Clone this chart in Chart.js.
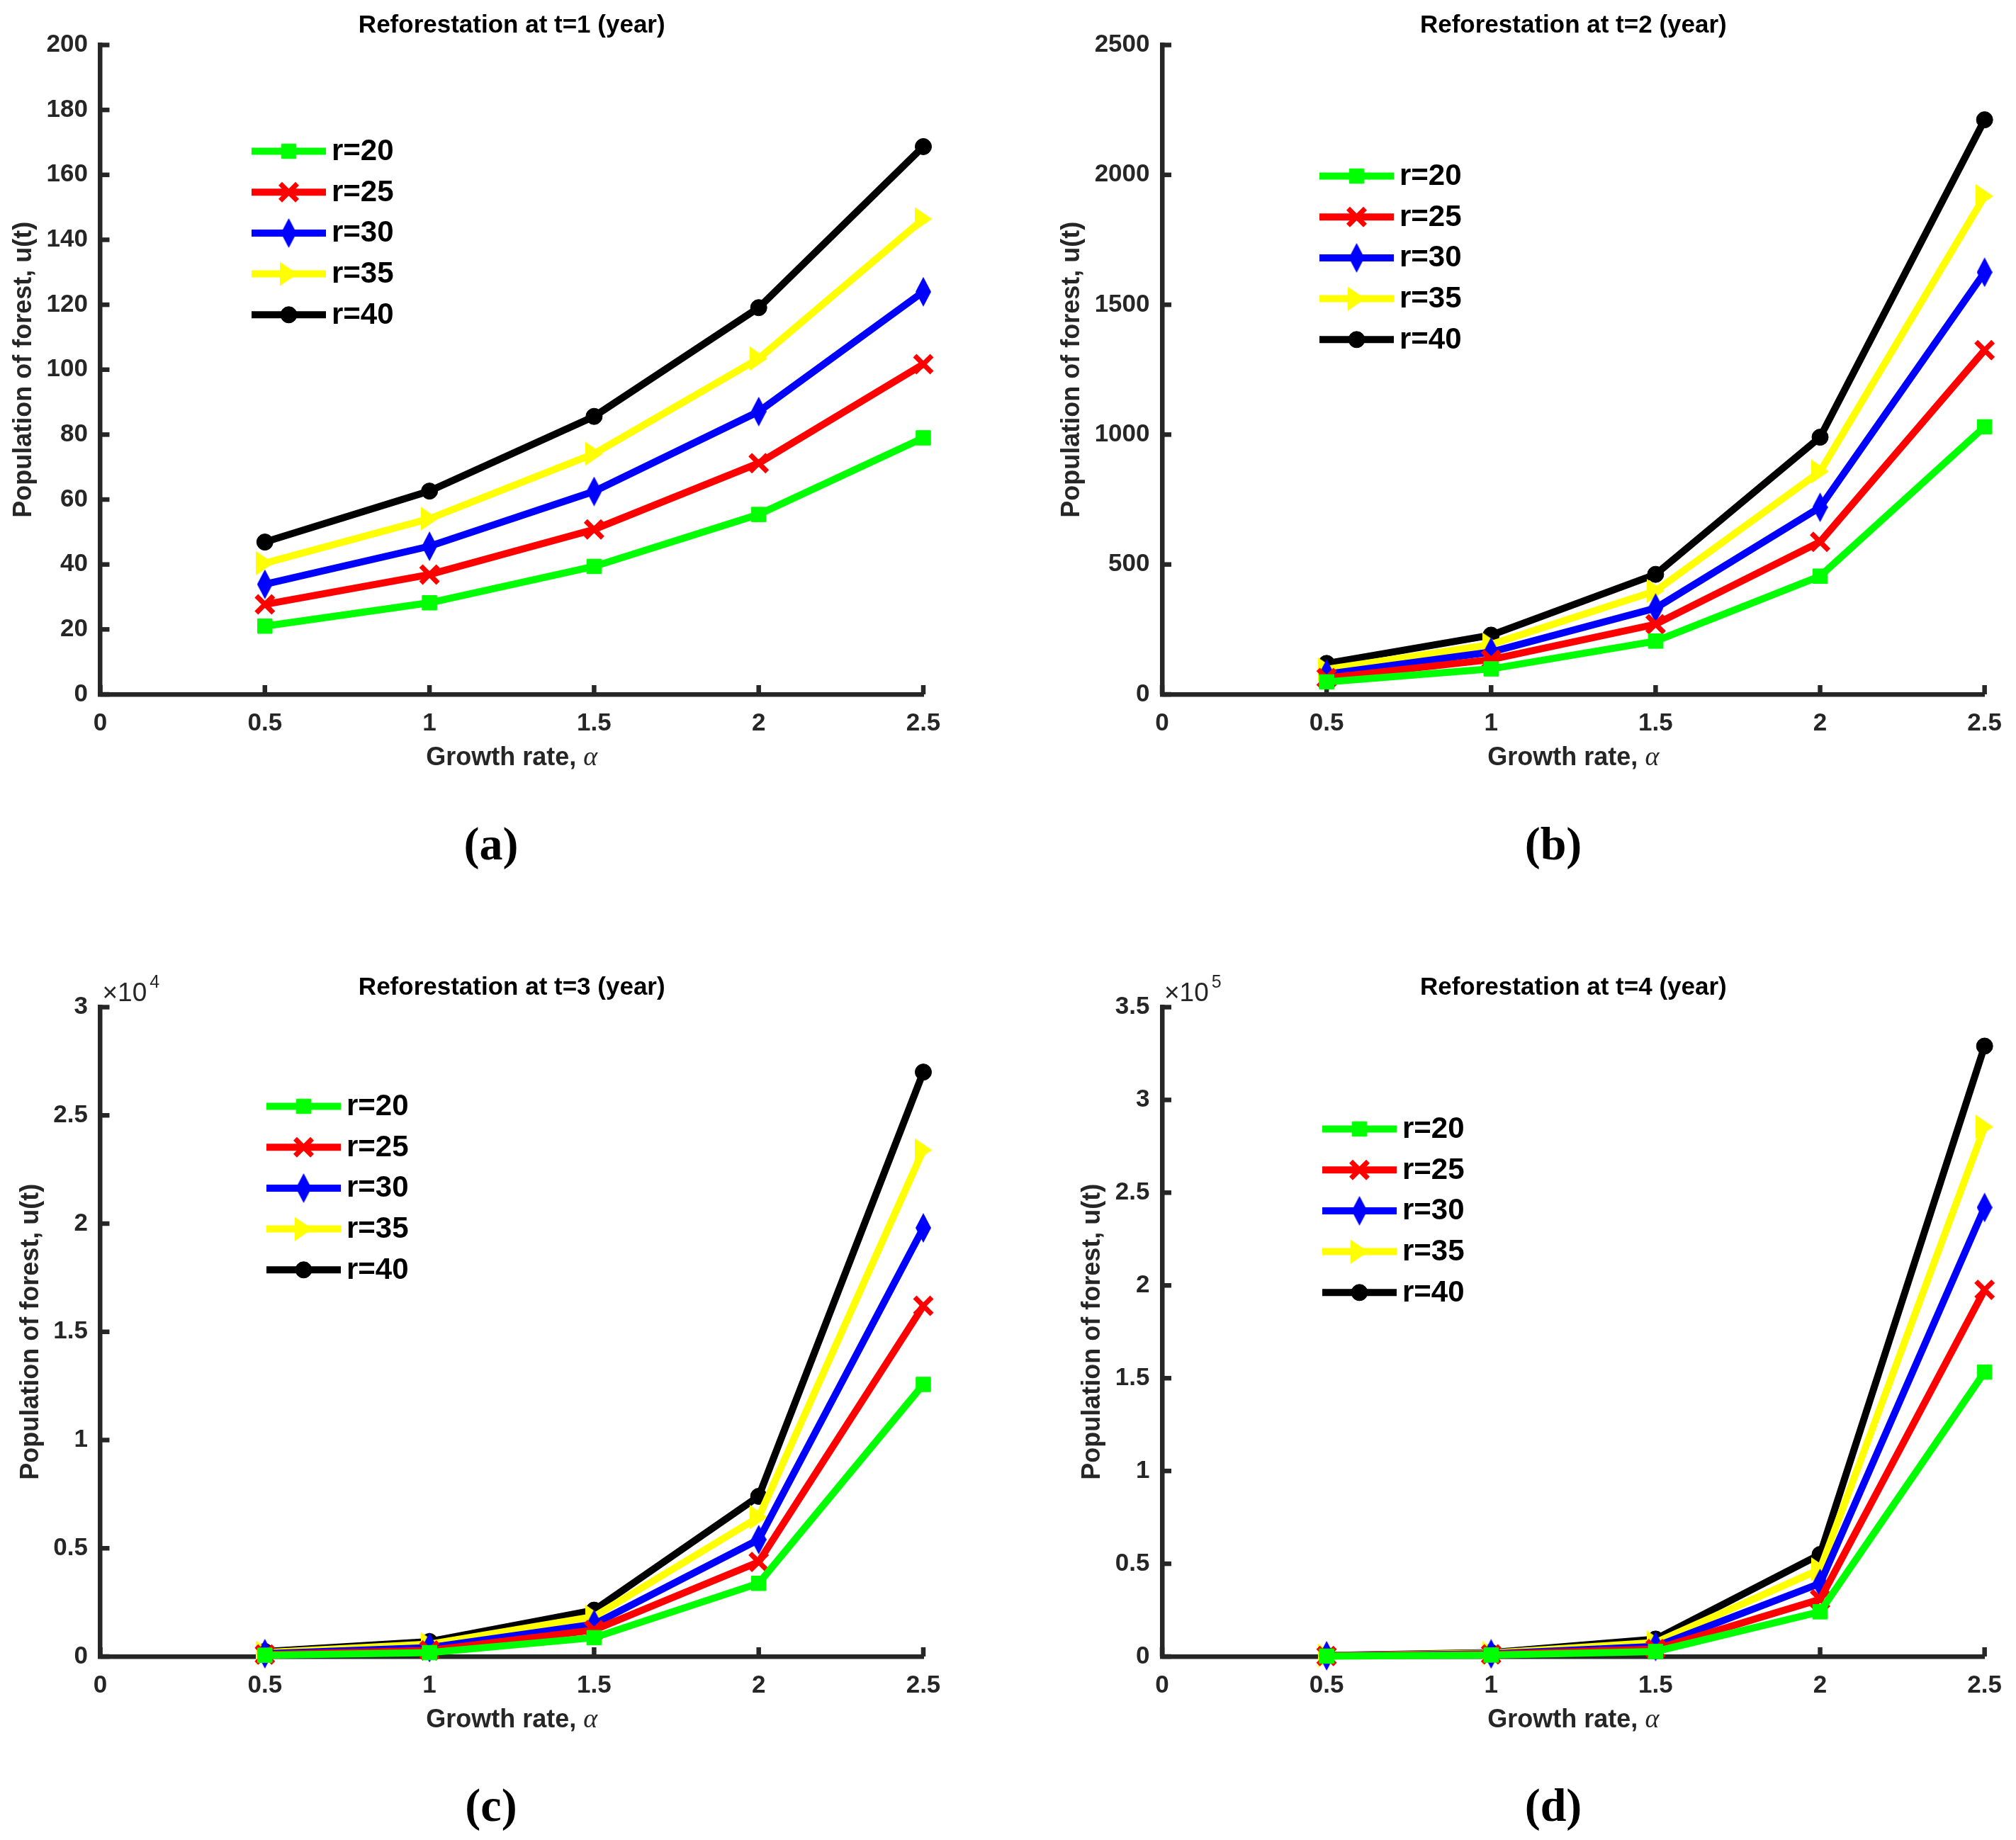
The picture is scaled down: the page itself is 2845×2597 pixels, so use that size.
<!DOCTYPE html>
<html><head><meta charset="utf-8">
<script src="https://cdn.jsdelivr.net/npm/chart.js@4.4.1/dist/chart.umd.min.js"></script>
<style>
html,body{margin:0;padding:0;background:#fff;}
#wrap{position:relative;width:2845px;height:2597px;background:#fff;overflow:hidden;}
canvas{position:absolute;}
.plabel{position:absolute;transform:translate(-50%,-50%);font:bold 66px 'Liberation Serif','DejaVu Serif',serif;color:#000;white-space:nowrap;}
</style></head><body>
<div id="wrap">
<canvas id="ca" width="1422" height="1100" style="left:0px;top:0px;width:1422px;height:1100px"></canvas>
<canvas id="cb" width="1423" height="1100" style="left:1422px;top:0px;width:1423px;height:1100px"></canvas>
<canvas id="cc" width="1422" height="1100" style="left:0px;top:1357.5px;width:1422px;height:1100px"></canvas>
<canvas id="cd" width="1423" height="1100" style="left:1422px;top:1357.5px;width:1423px;height:1100px"></canvas>
<div class="plabel" style="left:693px;top:1191px">(a)</div>
<div class="plabel" style="left:2192px;top:1191px">(b)</div>
<div class="plabel" style="left:693px;top:2548px">(c)</div>
<div class="plabel" style="left:2192px;top:2548px">(d)</div>
</div>
<script>
// ---------- data ----------
const alpha = [0.5, 1, 1.5, 2, 2.5];
const seriesNames = ['r=20', 'r=25', 'r=30', 'r=35', 'r=40'];
const panelTitles = ['Reforestation at t=1 (year)', 'Reforestation at t=2 (year)', 'Reforestation at t=3 (year)', 'Reforestation at t=4 (year)'];
const xAxisTitleText = 'Growth rate, ';
const xAxisTitleSymbol = '\u03B1';
const yAxisTitle = 'Population of forest, u(t)';

// t = 1 year
const t1_r20 = [21.0, 28.2, 39.4, 55.4, 79.0];
const t1_r25 = [27.7, 36.9, 50.8, 71.2, 101.7];
const t1_r30 = [33.9, 45.6, 62.5, 87.1, 124.0];
const t1_r35 = [40.4, 54.1, 74.1, 103.4, 146.4];
const t1_r40 = [46.9, 62.6, 85.6, 119.1, 168.7];
// t = 2 years
const t2_r20 = [48, 98, 205, 455, 1030];
const t2_r25 = [63, 134, 270, 587, 1325];
const t2_r30 = [78, 163, 332, 720, 1625];
const t2_r35 = [96, 192, 398, 858, 1918];
const t2_r40 = [119, 228, 462, 990, 2212];
// t = 3 years
const t3_r20 = [60, 180, 870, 3380, 12570];
const t3_r25 = [90, 280, 1220, 4370, 16200];
const t3_r30 = [130, 410, 1490, 5400, 19800];
const t3_r35 = [180, 570, 1840, 6440, 23400];
const t3_r40 = [230, 690, 2140, 7400, 27000];
// t = 4 years
const t4_r20 = [200, 800, 2700, 24100, 153300];
const t4_r25 = [300, 1100, 4000, 30800, 197600];
const t4_r30 = [400, 1400, 5400, 39400, 242000];
const t4_r35 = [500, 1800, 7500, 47000, 285500];
const t4_r40 = [600, 2100, 9400, 55000, 329000];

// axis ranges / tick spacing
const xMin = 0, xMax = 2.5, xStep = 0.5;
const yMaxes = [200, 2500, 30000, 350000];
const ySteps = [20, 500, 5000, 50000];
const yExponents = [0, 0, 4, 5];

// ---------- styles ----------
const FONT = "'Liberation Sans', Arial, Helvetica, sans-serif";
const SERIF = "'Liberation Serif', 'DejaVu Serif', serif";
const AX = '#262626';

function shapeCanvas(w, h, color, pts) {
  const c = document.createElement('canvas');
  c.width = w; c.height = h;
  const g = c.getContext('2d');
  g.fillStyle = color;
  g.beginPath();
  pts.forEach((p, i) => i ? g.lineTo(p[0], p[1]) : g.moveTo(p[0], p[1]));
  g.closePath(); g.fill();
  return c;
}
const diamondImg = shapeCanvas(22, 42, '#0000FF', [[11, 0], [22, 21], [11, 42], [0, 21]]);
const triRightImg = shapeCanvas(25, 34, '#FFFF00', [[0, 0], [25, 17], [0, 34]]);

const seriesStyles = [
  {color: '#00FF00', pointStyle: 'rect', radius: 14.5, rot: 0, bw: 1},
  {color: '#FF0000', pointStyle: 'crossRot', radius: 17, rot: 0, bw: 7},
  {color: '#0000FF', pointStyle: diamondImg, radius: 14, rot: 0, bw: 0},
  {color: '#FFFF00', pointStyle: triRightImg, radius: 14, rot: 0, bw: 0},
  {color: '#000000', pointStyle: 'circle', radius: 11.5, rot: 0, bw: 1}
];

const legendPlugin = {
  id: 'mLegend',
  afterDatasetsDraw(chart, args, opts) {
    const ctx = chart.ctx, ca = chart.chartArea;
    const x0 = ca.left + opts.dx, y0 = ca.top + opts.dy;
    chart.data.datasets.forEach((ds, i) => {
      const y = y0 + i * 57.7;
      ctx.save();
      ctx.strokeStyle = ds.borderColor; ctx.lineWidth = ds.borderWidth; ctx.lineCap = 'butt';
      ctx.beginPath(); ctx.moveTo(x0, y); ctx.lineTo(x0 + 105, y); ctx.stroke();
      ctx.fillStyle = ds.pointBackgroundColor; ctx.strokeStyle = ds.pointBorderColor; ctx.lineWidth = ds.pointBorderWidth;
      Chart.helpers.drawPoint(ctx, {pointStyle: ds.pointStyle, rotation: ds.pointRotation || 0, radius: ds.pointRadius, borderWidth: ds.pointBorderWidth}, x0 + 52.5, y);
      ctx.fillStyle = '#000'; ctx.font = 'bold 42px ' + FONT; ctx.textBaseline = 'middle'; ctx.textAlign = 'left';
      ctx.fillText(ds.label, x0 + 113, y + 1);
      ctx.restore();
    });
  }
};

const inwardTicks = {
  id: 'inTicks',
  beforeDatasetsDraw(chart) {
    const ctx = chart.ctx, ca = chart.chartArea;
    const xs = chart.scales.x, ys = chart.scales.y;
    ctx.save(); ctx.strokeStyle = AX; ctx.lineWidth = 6.5; ctx.lineCap = 'butt';
    ys.ticks.forEach(t => { const y = ys.getPixelForValue(t.value); ctx.beginPath(); ctx.moveTo(ca.left, y); ctx.lineTo(ca.left + 13, y); ctx.stroke(); });
    xs.ticks.forEach(t => { const x = xs.getPixelForValue(t.value); ctx.beginPath(); ctx.moveTo(x, ca.bottom); ctx.lineTo(x, ca.bottom - 13); ctx.stroke(); });
    ctx.restore();
  }
};

const xTitlePlugin = {
  id: 'xTitle',
  afterDraw(chart) {
    const ctx = chart.ctx, ca = chart.chartArea;
    ctx.save(); ctx.fillStyle = AX; ctx.textBaseline = 'alphabetic'; ctx.textAlign = 'left';
    const f1 = 'bold 36px ' + FONT, f2 = 'italic 38px ' + SERIF;
    ctx.font = f1; const w1 = ctx.measureText(xAxisTitleText).width;
    ctx.font = f2; const w2 = ctx.measureText(xAxisTitleSymbol).width;
    const x0 = (ca.left + ca.right) / 2 - (w1 + w2) / 2;
    const yb = ca.bottom + 100;
    ctx.font = f1; ctx.fillText(xAxisTitleText, x0, yb);
    ctx.font = f2; ctx.fillText(xAxisTitleSymbol, x0 + w1, yb);
    ctx.restore();
  }
};

const expPlugin = {
  id: 'expLabel',
  afterDraw(chart, args, opts) {
    if (!opts.exp) return;
    const ctx = chart.ctx, ca = chart.chartArea;
    ctx.save(); ctx.fillStyle = AX; ctx.textAlign = 'left'; ctx.textBaseline = 'alphabetic';
    ctx.font = '37px ' + FONT;
    const base = '\u00D710';
    ctx.fillText(base, ca.left + 3, ca.top - 9);
    const w = ctx.measureText(base).width;
    ctx.font = '25px ' + FONT;
    ctx.fillText(String(opts.exp), ca.left + 3 + w + 4, ca.top - 28);
    ctx.restore();
  }
};

function makePanel(canvasId, seriesList, idx, layout) {
  const exp = yExponents[idx];
  const datasets = seriesList.map((vals, i) => {
    const s = seriesStyles[i];
    return {
      label: seriesNames[i],
      data: vals.map((v, j) => ({x: alpha[j], y: v})),
      borderColor: s.color, backgroundColor: s.color,
      borderWidth: 10, tension: 0,
      pointStyle: s.pointStyle, pointRadius: s.radius, pointRotation: s.rot,
      pointBackgroundColor: s.color, pointBorderColor: s.color, pointBorderWidth: s.bw,
      pointHoverRadius: s.radius,
      clip: false
    };
  });
  new Chart(document.getElementById(canvasId), {
    type: 'line',
    data: {datasets},
    plugins: [inwardTicks, legendPlugin, expPlugin, xTitlePlugin],
    options: {
      responsive: false, animation: false, devicePixelRatio: 1,
      layout: {padding: {left: 0, right: layout.padRight, top: 0, bottom: 0}},
      plugins: {
        legend: {display: false}, tooltip: {enabled: false},
        title: {display: true, text: panelTitles[idx], fullSize: false, color: '#000',
          font: {family: FONT, size: 35, weight: 'bold', lineHeight: 1.2}, padding: {top: 15, bottom: 6.5}},
        mLegend: {dx: layout.legDx, dy: layout.legDy},
        expLabel: {exp: exp}
      },
      scales: {
        x: {
          type: 'linear', min: xMin, max: xMax,
          afterFit(scale) { scale.height = 120; },
          grid: {display: false, drawTicks: false},
          border: {display: true, color: AX, width: 6.5},
          ticks: {stepSize: xStep, color: AX, padding: 20, font: {family: FONT, size: 35, weight: 'bold'},
            callback: v => String(v), maxRotation: 0, autoSkip: false},
          title: {display: false}
        },
        y: {
          type: 'linear', min: 0, max: yMaxes[idx],
          afterFit(scale) { scale.width = layout.yWidth; },
          grid: {display: false, drawTicks: false},
          border: {display: true, color: AX, width: 6.5},
          ticks: {stepSize: ySteps[idx], color: AX, padding: 17.5, font: {family: FONT, size: 35, weight: 'bold'},
            callback: v => exp ? String(+(v / Math.pow(10, exp)).toFixed(3)) : String(v), autoSkip: false},
          title: {display: true, text: yAxisTitle, color: AX, font: {family: FONT, size: 36, weight: 'bold', lineHeight: 1.2}, padding: {top: layout.yTitlePad, bottom: 0}}
        }
      }
    }
  });
}

makePanel('ca', [t1_r20, t1_r25, t1_r30, t1_r35, t1_r40], 0, {padRight: 119, yWidth: 141.5, yTitlePad: 12.4, legDx: 213.5, legDy: 150});
makePanel('cb', [t2_r20, t2_r25, t2_r30, t2_r35, t2_r40], 1, {padRight: 42, yWidth: 218, yTitlePad: 69.4, legDx: 222, legDy: 185});
makePanel('cc', [t3_r20, t3_r25, t3_r30, t3_r35, t3_r40], 2, {padRight: 119, yWidth: 141.5, yTitlePad: 22.4, legDx: 234.5, legDy: 140});
makePanel('cd', [t4_r20, t4_r25, t4_r30, t4_r35, t4_r40], 3, {padRight: 42, yWidth: 218, yTitlePad: 98.9, legDx: 226, legDy: 172});
</script>
</body></html>
